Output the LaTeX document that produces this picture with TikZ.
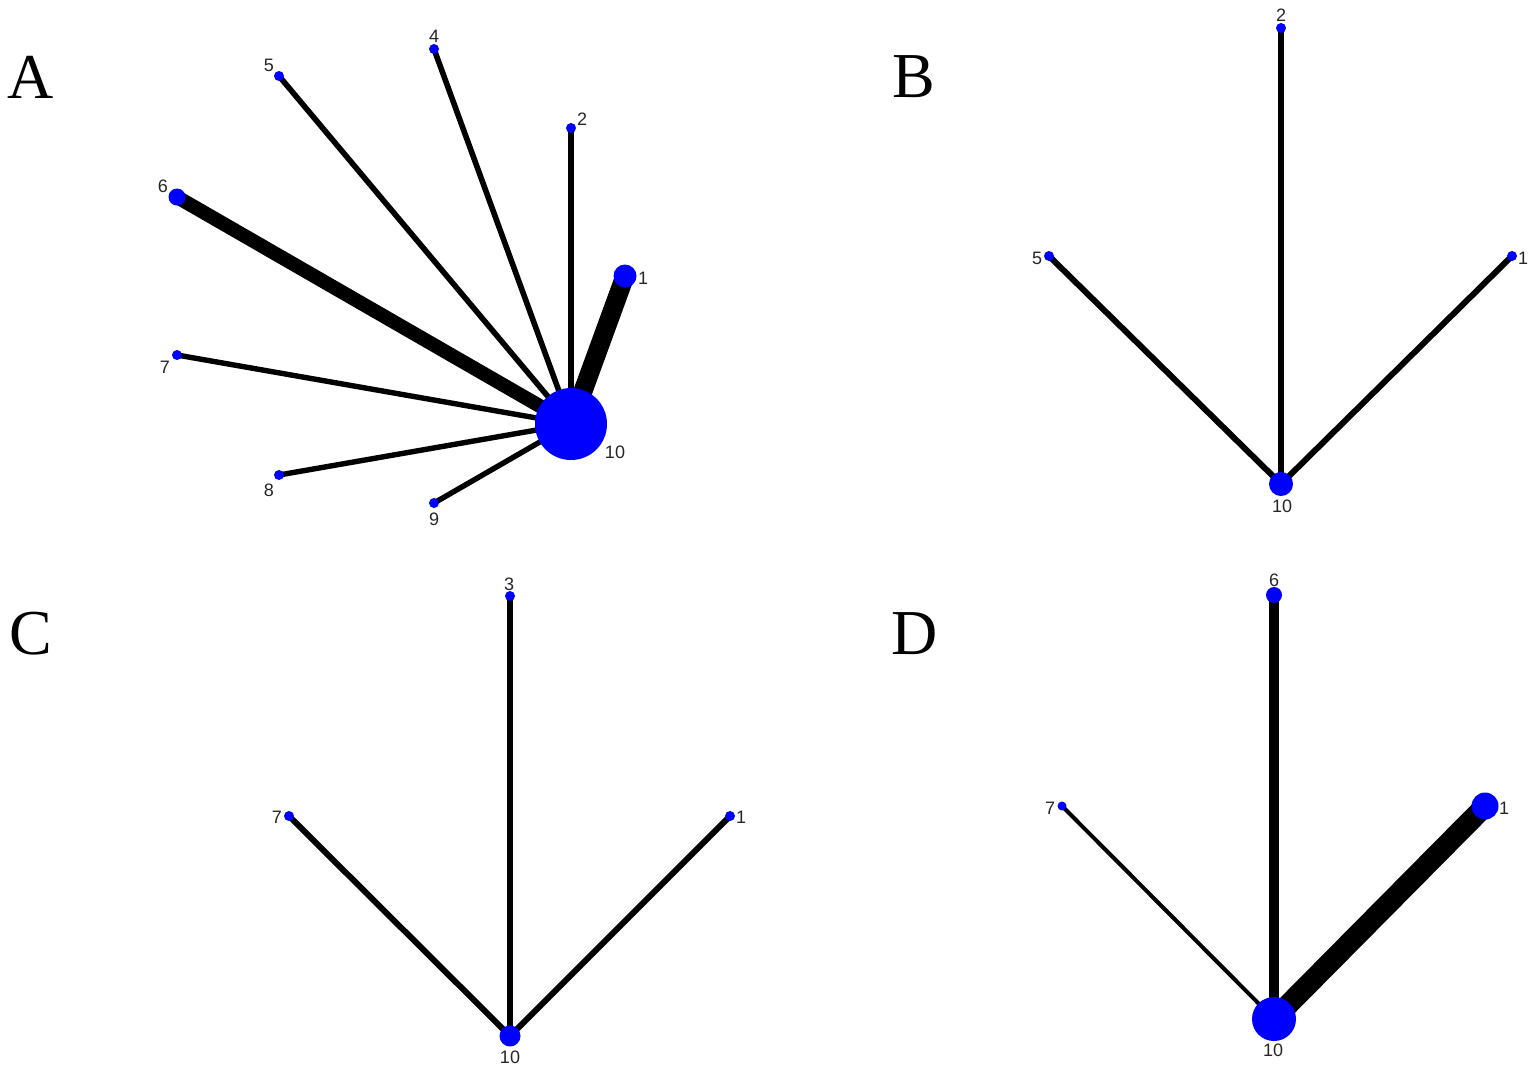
\documentclass[tikz,border=0pt]{standalone}
\usepackage{fontspec}
\setmainfont{Liberation Serif}
\newfontfamily\numfont{Liberation Sans}
\usetikzlibrary{backgrounds}
\tikzset{
  trt/.style={circle,fill=blue,draw=none,inner sep=0pt,minimum size=#1},
  trt/.default=5pt,
  num/.style={font=\numfont\fontsize{9}{10}\selectfont,text=black!85,inner sep=0pt},
  panel/.style={font=\fontsize{32}{34}\selectfont,inner sep=0pt},
  edge/.style={draw=black,line width=#1},
}
\begin{document}
\begin{tikzpicture}[x=0.5pt,y=-0.5pt]
\useasboundingbox (0,0) rectangle (1535,1073);
% panel letters
\node [panel] (pA) at (31,77) {A};
\node [panel] (pB) at (914,77) {B};
\node [panel] (pC) at (31,634) {C};
\node [panel] (pD) at (915,634) {D};
% A
\foreach \n/\x/\y/\d in {10/571/424/36pt,1/625/276/11.5pt,2/571/128/5pt,4/434/49/5pt,5/279/76/5pt,6/177/197/8.5pt,7/177/355/5pt,8/279/475/5pt,9/434/503/5pt}
  \node [trt=\d] (a\n) at (\x,\y) {};
\foreach \n/\x/\y in {10/615/452,1/643/278,2/582/119,4/434/36,5/269/65,6/163/186,7/165/367,8/269/490,9/434/519}
  \node [num] (la\n) at (\x,\y) {\n};
% B
\foreach \n/\x/\y/\d in {10/1281/484/12pt,2/1281/28/5pt,5/1049/256/5pt,1/1512/256/5pt}
  \node [trt=\d] (b\n) at (\x,\y) {};
\foreach \n/\x/\y in {10/1282/506,2/1281/15,5/1037/258,1/1523/258}
  \node [num] (lb\n) at (\x,\y) {\n};
% C
\foreach \n/\x/\y/\d in {10/510/1036/10.5pt,3/510/596/5pt,7/289/816/5pt,1/730/816/5pt}
  \node [trt=\d] (c\n) at (\x,\y) {};
\foreach \n/\x/\y in {10/510/1057,3/509/584,7/277/817,1/741/817}
  \node [num] (lc\n) at (\x,\y) {\n};
% D
\foreach \n/\x/\y/\d in {10/1274/1019/22pt,6/1274/595/8pt,7/1062/806/4.5pt,1/1485/806/13.5pt}
  \node [trt=\d] (d\n) at (\x,\y) {};
\foreach \n/\x/\y in {10/1273/1050,6/1274/580,7/1050/808,1/1504/808}
  \node [num] (ld\n) at (\x,\y) {\n};
% edges
\begin{scope}[on background layer]
\foreach \n/\w in {1/9.5pt,2/2.8pt,4/2.8pt,5/2.8pt,6/7pt,7/2.7pt,8/2.7pt,9/2.7pt}
  \draw [edge=\w] (a10.center) -- (a\n.center);
\foreach \n in {2,5,1}
  \draw [edge=3pt] (b10.center) -- (b\n.center);
\foreach \n in {3,7,1}
  \draw [edge=3pt] (c10.center) -- (c\n.center);
\foreach \n/\w in {6/5pt,7/2pt,1/10.5pt}
  \draw [edge=\w] (d10.center) -- (d\n.center);
\end{scope}
\end{tikzpicture}
\end{document}
